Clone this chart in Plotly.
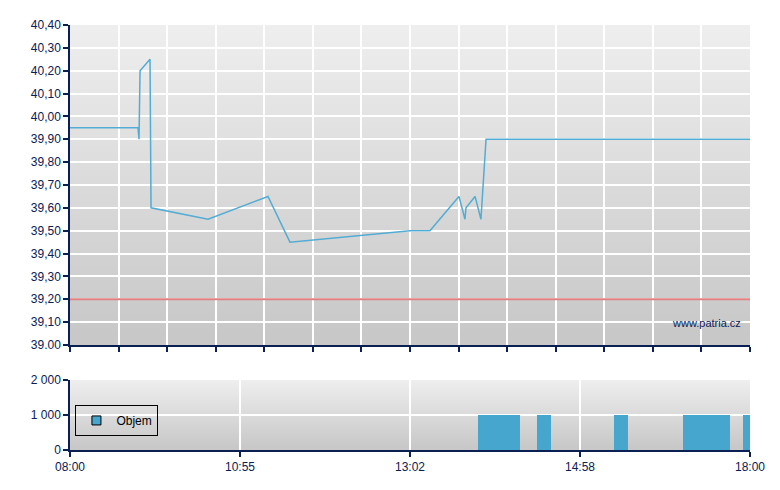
import plotly.graph_objects as go

# ---- data ----
# price: minutes since 08:00 (axis position), price in CZK
price_t = [0, 60, 60.9, 61.8, 70.6, 71.5, 121.8, 174.7, 194.1, 300, 317.6,
           343.2, 348.5, 349.4, 357.4, 362.6, 367.1, 600]
price_v = [39.95, 39.95, 39.90, 40.20, 40.25, 39.60, 39.55, 39.65, 39.45, 39.50, 39.50,
           39.65, 39.55, 39.60, 39.65, 39.55, 39.90, 39.90]
ref_price = 39.20

# volume intervals (start, end in minutes) and volume
vol_start = [360, 412, 480, 541, 594]
vol_end = [397, 424, 492, 582, 600]
vol_val = [1000, 1000, 1000, 1000, 1000]

x_tick_vals = [0, 150, 300, 450, 600]
x_tick_text = ["08:00", "10:55", "13:02", "14:58", "18:00"]
y_tick_vals = [39.0 + i * 0.1 for i in range(15)]
y_tick_text = ["39.00"] + [f"{v:.2f}".replace(".", ",") for v in y_tick_vals[1:]]
vy_tick_vals = [0, 1000, 2000]
vy_tick_text = ["0", "1 000", "2 000"]

NAVY = "#0b2052"
FAM = "Liberation Sans, Arial, sans-serif"
FONT = dict(family=FAM, size=12, color=NAVY)
BAR_COLOR = "#46a6ce"

fig = go.Figure()

fig.add_trace(go.Scatter(x=price_t, y=price_v, mode="lines",
                         line=dict(color="#52acd3", width=1.5),
                         xaxis="x2", yaxis="y2", showlegend=False))
fig.add_trace(go.Scatter(x=[0, 600], y=[ref_price, ref_price], mode="lines",
                         line=dict(color="#e08080", width=2),
                         xaxis="x2", yaxis="y2", showlegend=False))

fig.add_trace(go.Bar(x=vol_start, y=vol_val,
                     width=[e - s for s, e in zip(vol_start, vol_end)],
                     offset=0, marker=dict(color=BAR_COLOR, line=dict(width=0)),
                     name="Objem", xaxis="x", yaxis="y", showlegend=False))
# legend entry
fig.add_trace(go.Scatter(x=[None], y=[None], mode="markers", name="Objem",
                         marker=dict(symbol="square", size=9, color=BAR_COLOR,
                                     line=dict(color="black", width=1)),
                         xaxis="x", yaxis="y", showlegend=True))

# gradient backgrounds
shapes = []
N = 40
for ax_x, ax_y in (("x", "y"), ("x2", "y2")):
    for i in range(N):
        f = i / (N - 1)
        c = int(0xee - (0xee - 0xc8) * f)
        shapes.append(dict(type="rect", xref=f"{ax_x} domain", yref=f"{ax_y} domain",
                           x0=0, x1=1, y0=max(0, 1 - (i + 1) / N - 0.01), y1=1 - i / N,
                           fillcolor=f"rgb({c},{c},{c})", line=dict(width=0),
                           layer="below"))

main_grid = [600 / 14 * i for i in range(15)]

axis_common = dict(showgrid=True, gridcolor="white", gridwidth=1.5,
                   showline=True, linecolor=NAVY, linewidth=1.5,
                   ticks="outside", ticklen=5, tickcolor=NAVY, tickwidth=1.5,
                   zeroline=False, automargin=False)

fig.update_layout(
    width=780, height=490,
    margin=dict(l=62, r=38, t=17, b=48),
    paper_bgcolor="white", plot_bgcolor="rgba(0,0,0,0)",
    font=FONT,
    shapes=shapes,
    bargap=0,
    xaxis=dict(domain=[0, 1], range=[0, 600], tickvals=x_tick_vals, ticktext=x_tick_text,
               anchor="y", **axis_common),
    yaxis=dict(domain=[0, 70 / 425], range=[0, 2000], tickvals=vy_tick_vals, ticktext=vy_tick_text,
               anchor="x", **axis_common),
    xaxis2=dict(domain=[0, 1], range=[0, 600], tickvals=main_grid, showticklabels=False,
                anchor="y2", **axis_common),
    yaxis2=dict(domain=[105 / 425, 1], range=[39.0, 40.4], tickvals=y_tick_vals, ticktext=y_tick_text,
                anchor="x2", **axis_common),
    legend=dict(x=0.008, y=0.106, xanchor="left", yanchor="top",
                xref="paper", yref="paper",
                bgcolor="rgba(0,0,0,0)", bordercolor="black", borderwidth=1,
                font=dict(family=FAM, size=12, color="black"),
                itemwidth=30, tracegroupgap=0),
    annotations=[dict(text="www.patria.cz", xref="x2 domain", yref="y2 domain",
                      x=0.99, y=0.07, xanchor="right", yanchor="middle",
                      showarrow=False, font=dict(family=FAM, size=11, color=NAVY))],
)

fig.write_html("out.html")
